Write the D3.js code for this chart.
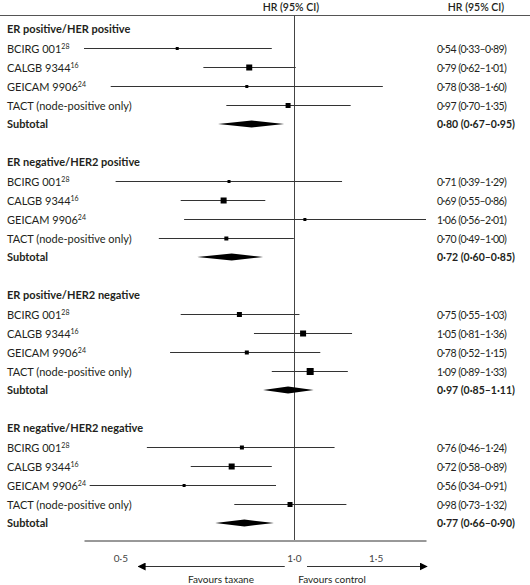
<!DOCTYPE html>
<html><head><meta charset="utf-8">
<script src="https://cdn.jsdelivr.net/npm/d3@7"></script>
<style>
body{margin:0;background:#fff;}
svg{display:block;font-family:Lato,"Open Sans",sans-serif;}
</style></head>
<body><svg id="c" width="530" height="585"></svg>
<script>
const groups = ["ER positive/HER positive","ER negative/HER2 positive","ER positive/HER2 negative","ER negative/HER2 negative"];
const studies = ["BCIRG 001","CALGB 9344","GEICAM 9906","TACT (node-positive only)"];
const refs = ["28","16","24",""];
const hr = [[0.54,0.79,0.78,0.97],[0.71,0.69,1.06,0.70],[0.75,1.05,0.78,1.09],[0.76,0.72,0.56,0.98]];
const lo = [[0.33,0.62,0.38,0.70],[0.39,0.55,0.56,0.49],[0.55,0.81,0.52,0.89],[0.46,0.58,0.34,0.73]];
const hi = [[0.89,1.01,1.60,1.35],[1.29,0.86,2.01,1.00],[1.03,1.36,1.15,1.33],[1.24,0.89,0.91,1.32]];
const weights = [[3,6,3,5],[3,6,3,4],[5,6,4,7],[4,6,3,5]];
const subHR = [0.80,0.72,0.97,0.77];
const subLo = [0.67,0.60,0.85,0.66];
const subHi = [0.95,0.85,1.11,0.90];
const tickVals = [0.40,1.0,1.54];
const tickLabels = ["0·5","1·0","1·5"];
const arrowLeft = [0.953,0.44];
const arrowRight = [1.072,2.02];
const favLabels = ["Favours taxane","Favours control"];

const fmt = v => v.toFixed(2).replace(".","·");
const svg = d3.select("#c");
const ink = "#231f20";

const x = d3.scaleLog().domain([0.33,2.01]).range([84,426]);
const y = d3.scaleLinear().domain([0,26]).range([29,523]);

// header
svg.append("line").attr("x1",0).attr("x2",530).attr("y1",15.5).attr("y2",15.5).attr("stroke","#555").attr("stroke-width",1);
svg.append("text").attr("x",x(1)-3).attr("y",11).attr("text-anchor","middle").attr("font-size",10.5).attr("font-weight",600).attr("fill",ink).text("HR (95% CI)");
svg.append("text").attr("x",476).attr("y",11).attr("text-anchor","middle").attr("font-size",10.5).attr("font-weight",600).attr("fill",ink).text("HR (95% CI)");

// reference line
svg.append("line").attr("x1",Math.round(x(1))+0.5).attr("x2",Math.round(x(1))+0.5).attr("y1",15.5).attr("y2",540).attr("stroke","#444").attr("stroke-width",1);

const sz = d3.scaleLinear().domain([3,7]).range([3,7]);

groups.forEach((g,gi)=>{
  const base = gi*7;
  svg.append("text").attr("x",7).attr("y",y(base)+4).attr("font-size",11).attr("font-weight",700).attr("fill",ink).text(g);
  studies.forEach((s,si)=>{
    const yy = Math.round(y(base+1+si))+0.5;
    const t = svg.append("text").attr("x",7).attr("y",yy+4).attr("font-size",11).attr("fill",ink);
    t.append("tspan").text(s);
    if(refs[si]) t.append("tspan").attr("font-size",7).attr("dy",-4).text(refs[si]);
    svg.append("line").attr("x1",x(lo[gi][si])).attr("x2",x(hi[gi][si])).attr("y1",yy).attr("y2",yy).attr("stroke","#333").attr("stroke-width",1);
    const w = sz(weights[gi][si]);
    svg.append("rect").attr("x",x(hr[gi][si])-w/2).attr("y",yy-w/2).attr("width",w).attr("height",w).attr("fill","#000");
    svg.append("text").attr("x",437).attr("y",yy+4).attr("font-size",10.5).attr("letter-spacing",-0.5).attr("fill",ink)
      .text(`${fmt(hr[gi][si])} (${fmt(lo[gi][si])}–${fmt(hi[gi][si])})`);
  });
  const ys = y(base+5);
  svg.append("text").attr("x",7).attr("y",ys+4).attr("font-size",11).attr("font-weight",700).attr("fill",ink).text("Subtotal");
  const h = 3.5;
  svg.append("path").attr("d",`M${x(subLo[gi])},${ys}L${x(subHR[gi])},${ys-h}L${x(subHi[gi])},${ys}L${x(subHR[gi])},${ys+h}Z`).attr("fill","#000");
  svg.append("text").attr("x",437).attr("y",ys+4).attr("font-size",10.5).attr("font-weight",700).attr("fill",ink)
    .text(`${fmt(subHR[gi])} (${fmt(subLo[gi])}–${fmt(subHi[gi])})`);
});

// axis
const axis = d3.axisBottom(x).tickValues(tickVals).tickFormat((d,i)=>tickLabels[i]).tickSize(0).tickPadding(14);
const ag = svg.append("g").attr("transform","translate(0,540.5)").call(axis);
ag.select(".domain").attr("stroke","#333");
ag.selectAll("text").attr("font-size",10).attr("fill","#444").attr("font-family","Lato,'Open Sans',sans-serif");

// arrows
const defs = svg.append("defs");
defs.append("marker").attr("id","ah").attr("viewBox","0 0 10 10").attr("refX",9).attr("refY",5)
  .attr("markerWidth",8).attr("markerHeight",8).attr("markerUnits","userSpaceOnUse").attr("orient","auto")
  .append("path").attr("d","M0,0L10,5L0,10Z").attr("fill","#000");
[arrowLeft,arrowRight].forEach(a=>{
  svg.append("line").attr("x1",x(a[0])).attr("x2",x(a[1])).attr("y1",566.5).attr("y2",566.5).attr("stroke","#333").attr("stroke-width",1).attr("marker-end","url(#ah)");
});
svg.append("text").attr("x",221).attr("y",583).attr("text-anchor","middle").attr("font-size",10).attr("fill",ink).text(favLabels[0]);
svg.append("text").attr("x",332).attr("y",583).attr("text-anchor","middle").attr("font-size",10).attr("fill",ink).text(favLabels[1]);
</script></body></html>
